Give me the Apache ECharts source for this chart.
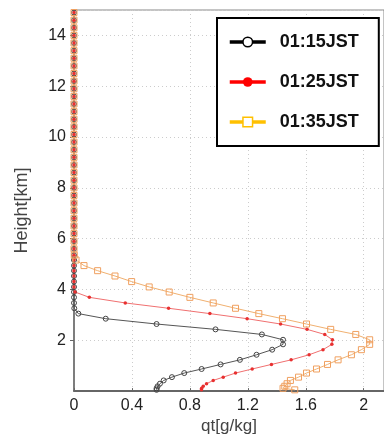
<!DOCTYPE html>
<html>
<head>
<meta charset="utf-8">
<script src="https://cdn.jsdelivr.net/npm/echarts@6/dist/echarts.min.js"></script>
<style>
  html, body { margin: 0; padding: 0; background: #fff; }
  #chart { width: 384px; height: 440px; }
</style>
</head>
<body>
<div id="chart"></div>
<script>
// model levels [km]
const heights = [
  0.05, 0.11, 0.19, 0.29, 0.42, 0.55, 0.71, 0.87, 1.05, 1.23,
  1.43, 1.63, 1.84, 2.02, 2.23, 2.43, 2.64, 2.85, 3.05, 3.26,
  3.47, 3.69, 3.9, 4.1, 4.31, 4.53, 4.74, 4.94, 5.16, 5.35,
  5.6, 5.9, 6.2, 6.5, 6.8, 7.1, 7.4, 7.7, 8.0, 8.3,
  8.6, 8.9, 9.2, 9.5, 9.8, 10.1, 10.4, 10.7, 11.0, 11.3,
  11.6, 11.9, 12.2, 12.5, 12.8, 13.1, 13.4, 13.7, 14.0, 14.3,
  14.6, 14.9
];

// qt [g/kg] at each level
const qt0115 = [
  0.57, 0.57, 0.577, 0.593, 0.619, 0.676, 0.761, 0.881, 1.012, 1.145,
  1.26, 1.368, 1.443, 1.443, 1.297, 0.977, 0.57, 0.219, 0.03, 0.002,
  0, 0, 0, 0, 0, 0, 0, 0, 0, 0,
  0, 0, 0, 0, 0, 0, 0, 0, 0, 0,
  0, 0, 0, 0, 0, 0, 0, 0, 0, 0,
  0, 0, 0, 0, 0, 0, 0, 0, 0, 0,
  0, 0
];
const qt0125 = [
  0.88, 0.881, 0.892, 0.915, 0.961, 1.03, 1.115, 1.23, 1.363, 1.499,
  1.623, 1.719, 1.78, 1.784, 1.731, 1.609, 1.426, 1.195, 0.938, 0.653,
  0.354, 0.106, 0.007, 0, 0, 0, 0, 0, 0, 0,
  0, 0, 0, 0, 0, 0, 0, 0, 0, 0,
  0, 0, 0, 0, 0, 0, 0, 0, 0, 0,
  0, 0, 0, 0, 0, 0, 0, 0, 0, 0,
  0, 0
];
const qt0135 = [
  1.524, 1.443, 1.455, 1.471, 1.494, 1.55, 1.605, 1.674, 1.75, 1.823,
  1.915, 1.984, 2.041, 2.041, 1.945, 1.772, 1.605, 1.439, 1.276, 1.115,
  0.961, 0.8, 0.657, 0.519, 0.398, 0.283, 0.163, 0.069, 0.014, 0.002,
  0, 0, 0, 0, 0, 0, 0, 0, 0, 0,
  0, 0, 0, 0, 0, 0, 0, 0, 0, 0,
  0, 0, 0, 0, 0, 0, 0, 0, 0, 0,
  0, 0
];

const seriesNames = ["01:15JST", "01:25JST", "01:35JST"];

const pairs = (vals) => vals.map((v, i) => [v, heights[i]]);

const chart = echarts.init(document.getElementById("chart"));

const labelFont = "Liberation Sans";

chart.setOption({
  animation: false,
  grid: {
    left: 74,
    right: 0,
    top: 10,
    bottom: 43,
    show: true,
    borderColor: "#888",
    borderWidth: 1,
  },
  legend: {
    orient: "vertical",
    left: 217,
    top: 18,
    padding: [15, 20, 15, 11],
    itemWidth: 36,
    itemHeight: 12,
    itemGap: 22,
    borderColor: "#000",
    borderWidth: 2,
    backgroundColor: "#fff",
    textStyle: {
      fontFamily: labelFont,
      fontSize: 18,
      fontWeight: "bold",
      color: "#111",
      padding: [0, 0, 0, 9],
    },
    data: [
      {
        name: seriesNames[0],
        lineStyle: { color: "#000", width: 3.5 },
        itemStyle: { color: "#fff", borderColor: "#000", borderWidth: 1.5 },
      },
      {
        name: seriesNames[1],
        lineStyle: { color: "#ff0000", width: 3.5 },
        itemStyle: { color: "#ff0000", borderWidth: 0 },
      },
      {
        name: seriesNames[2],
        lineStyle: { color: "#ffc000", width: 3.5 },
        itemStyle: { color: "#fff", borderColor: "#ffc000", borderWidth: 1.5 },
      },
    ],
  },
  xAxis: {
    type: "value",
    min: 0,
    max: 2.14,
    interval: 0.4,
    name: "qt[g/kg]",
    nameLocation: "middle",
    nameGap: 22,
    nameTextStyle: { fontFamily: labelFont, fontSize: 17, color: "#444" },
    axisLine: { lineStyle: { color: "#666", width: 2 } },
    axisTick: { inside: true, length: 3, lineStyle: { color: "#666" } },
    axisLabel: {
      fontFamily: labelFont,
      fontSize: 16,
      color: "#222",
      margin: 6,
      showMaxLabel: false,
    },
    splitLine: {
      show: true,
      lineStyle: { color: "#ccc", type: [1, 3], width: 1 },
    },
  },
  yAxis: {
    type: "value",
    min: 0,
    max: 15,
    interval: 2,
    name: "Height[km]",
    nameLocation: "middle",
    nameGap: 43,
    nameTextStyle: {
      fontFamily: labelFont,
      fontSize: 18,
      color: "#444",
      padding: [0, 20, 0, 0],
    },
    axisLine: { lineStyle: { color: "#666", width: 1.5 } },
    axisTick: { length: 4, lineStyle: { color: "#666" } },
    axisLabel: {
      fontFamily: labelFont,
      fontSize: 16,
      color: "#222",
      margin: 8,
      showMinLabel: false,
      showMaxLabel: false,
    },
    splitLine: {
      show: true,
      lineStyle: { color: "#ccc", type: [1, 3], width: 1 },
    },
  },
  series: [
    {
      name: seriesNames[0],
      type: "line",
      data: pairs(qt0115),
      symbol: "circle",
      symbolSize: 5,
      itemStyle: { color: "rgba(255,255,255,0)", borderColor: "#444", borderWidth: 1 },
      lineStyle: { color: "#555", width: 1 },
    },
    {
      name: seriesNames[1],
      type: "line",
      data: pairs(qt0125),
      symbol: "circle",
      symbolSize: 3.5,
      itemStyle: { color: "#e83030", borderWidth: 0 },
      lineStyle: { color: "#f07070", width: 1 },
    },
    {
      name: seriesNames[2],
      type: "line",
      data: pairs(qt0135),
      symbol: "rect",
      symbolSize: 6,
      itemStyle: { color: "rgba(255,255,255,0)", borderColor: "#f0a060", borderWidth: 1 },
      lineStyle: { color: "#f0b070", width: 1 },
    },
  ],
});

window.addEventListener("resize", () => chart.resize());
</script>
</body>
</html>
